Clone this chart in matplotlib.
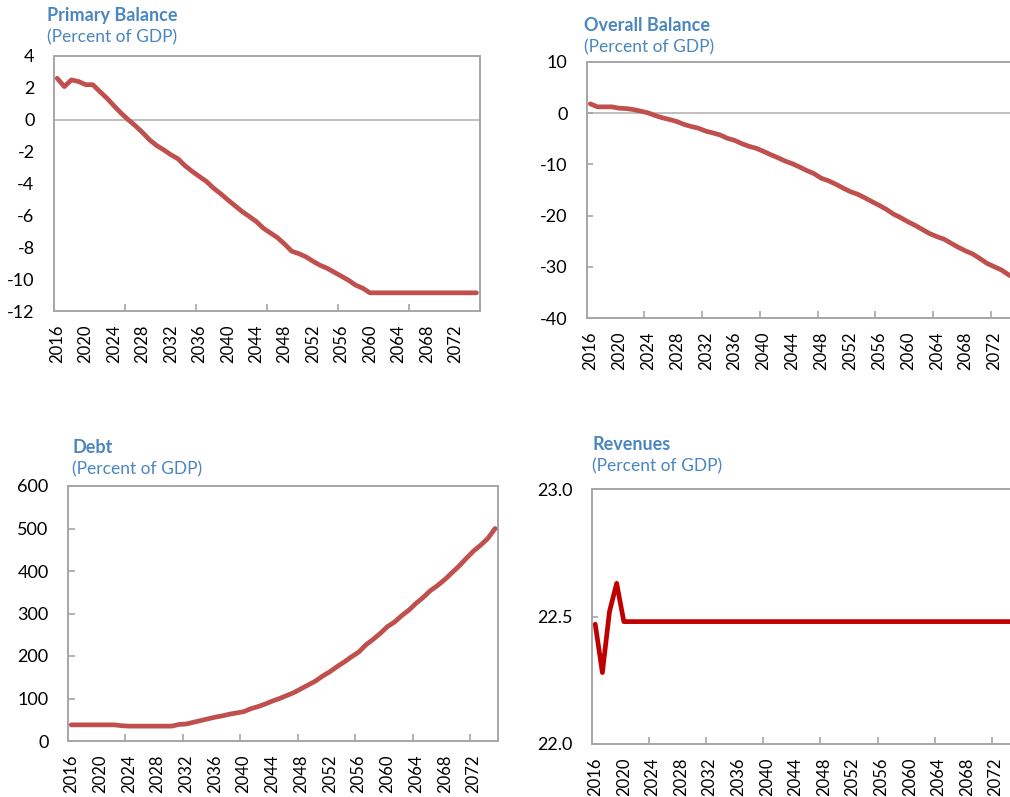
import numpy as np
import matplotlib
matplotlib.use("Agg")
import matplotlib.pyplot as plt

plt.rcParams['font.family'] = ['Lato', 'DejaVu Sans']

years = list(range(2016, 2076))

primary_balance = [2.6, 2.08, 2.5, 2.4, 2.2, 2.2, 1.77, 1.35, 0.87, 0.41,
                   0.0, -0.38, -0.8, -1.26, -1.62, -1.89, -2.2, -2.45, -2.89, -3.24,
                   -3.56, -3.87, -4.29, -4.64, -5.02, -5.39, -5.75, -6.06, -6.38, -6.8,
                   -7.1, -7.4, -7.8, -8.25, -8.4, -8.6, -8.88, -9.13, -9.32, -9.57,
                   -9.82, -10.07, -10.38, -10.57, -10.86, -10.86, -10.86, -10.86, -10.86, -10.86,
                   -10.86, -10.86, -10.86, -10.86, -10.86, -10.86, -10.86, -10.86, -10.86, -10.86]

overall_balance = [1.83, 1.24, 1.24, 1.24, 0.98, 0.9, 0.7, 0.4, 0.07, -0.46,
                   -0.9, -1.24, -1.63, -2.2, -2.6, -2.94, -3.5, -3.86, -4.25, -4.9,
                   -5.3, -5.95, -6.47, -6.86, -7.45, -8.1, -8.7, -9.35, -9.87, -10.5,
                   -11.2, -11.8, -12.7, -13.2, -13.85, -14.6, -15.3, -15.8, -16.5, -17.25,
                   -17.97, -18.76, -19.7, -20.4, -21.2, -21.9, -22.7, -23.5, -24.1, -24.6,
                   -25.4, -26.2, -26.9, -27.5, -28.4, -29.35, -30.0, -30.65, -31.6, -32.3]

debt = [38, 38, 38, 38, 38, 38, 38, 36, 35, 35,
        35, 35, 35, 35, 35, 39, 40, 44, 48, 52,
        56, 59, 63, 66, 69, 76, 81, 87, 94, 100,
        107, 114, 123, 132, 141, 153, 163, 175, 186, 198,
        209, 226, 239, 253, 269, 280, 295, 308, 324, 338,
        354, 366, 380, 396, 412, 430, 447, 461, 477, 500]

revenues = [22.47, 22.28, 22.52, 22.63] + [22.48] * 56

year_labels = list(range(2016, 2073, 4))

title_color = "#4A86BF"
line_red = "#C0504D"
rev_red = "#C00000"
frame_gray = "#A6A6A6"

fig = plt.figure(figsize=(10.1, 7.97), dpi=100)
W, H = 1010, 797


def make_axes(left, top, right, bottom):
    return fig.add_axes([left / W, 1 - bottom / H, (right - left) / W, (bottom - top) / H])


def style(ax, series, color, ylim, yticks, ylabels, tick_step, ytick_len, zero_line):
    ax.plot(years, series, color=color, lw=3.4, solid_capstyle='round', solid_joinstyle='round', zorder=3)
    ax.set_xlim(2015.55, 2075.4)
    ax.set_ylim(*ylim)
    ax.set_yticks(yticks)
    ax.set_yticklabels(ylabels)
    ax.set_xticks(year_labels)
    ax.set_xticklabels([str(y) for y in year_labels], rotation=90)
    ax.set_xticks(np.arange(2016 + tick_step - 0.5, 2076, tick_step), minor=True)
    ax.tick_params(axis='x', which='major', length=0, pad=10, labelsize=12)
    ax.tick_params(axis='x', which='minor', length=5, width=1.2, direction='in', color=frame_gray)
    ax.tick_params(axis='y', which='major', length=ytick_len, width=1.2, direction='in',
                   color=frame_gray, pad=14, labelsize=13)
    for s in ax.spines.values():
        s.set_color(frame_gray)
        s.set_linewidth(1.4)
    if zero_line:
        ax.axhline(0, color="#BFBFBF", lw=1.4, zorder=1)


def titles(x, y, name):
    fig.text(x / W, 1 - y / H, name, color=title_color, fontsize=13, fontweight='bold', va='top')
    fig.text(x / W, 1 - (y + 22) / H, "(Percent of GDP)", color=title_color, fontsize=12.5, va='top')


ax1 = make_axes(54, 56, 480, 311)
style(ax1, primary_balance, line_red, (-12, 4), range(-12, 5, 2),
      [str(v) for v in range(-12, 5, 2)], 10, 0, True)
titles(47, 7, "Primary Balance")

ax2 = make_axes(587, 62, 1019, 318)
style(ax2, overall_balance, line_red, (-40, 10), range(-40, 11, 10),
      [str(v) for v in range(-40, 11, 10)], 8, 4, True)
titles(584, 17, "Overall Balance")

ax3 = make_axes(68, 486, 498, 741)
style(ax3, debt, line_red, (0, 600), range(0, 601, 100),
      [str(v) for v in range(0, 601, 100)], 8, 5, False)
titles(72, 439, "Debt")

ax4 = make_axes(592, 489, 1020, 744)
style(ax4, revenues, rev_red, (22.0, 23.0), [22.0, 22.5, 23.0],
      ["22.0", "22.5", "23.0"], 8, 4, False)
titles(592, 436, "Revenues")

fig.savefig("out.png", dpi=100)
